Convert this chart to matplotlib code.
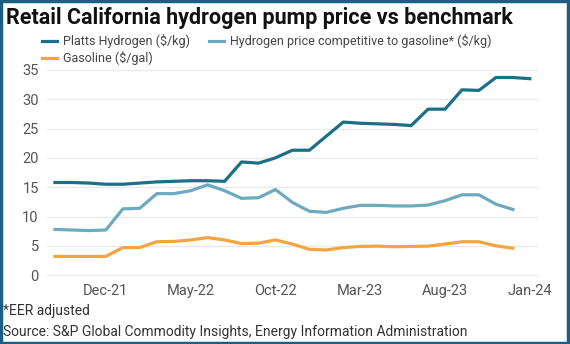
import numpy as np
import matplotlib
matplotlib.use("Agg")
import matplotlib.pyplot as plt
from matplotlib.patches import Rectangle

plt.rcParams['font.family'] = ['Roboto', 'DejaVu Sans']

# Monthly points, Sep-21 .. Jan-24
months = ["Sep-21", "Oct-21", "Nov-21", "Dec-21", "Jan-22", "Feb-22", "Mar-22", "Apr-22",
          "May-22", "Jun-22", "Jul-22", "Aug-22", "Sep-22", "Oct-22", "Nov-22", "Dec-22",
          "Jan-23", "Feb-23", "Mar-23", "Apr-23", "May-23", "Jun-23", "Jul-23", "Aug-23",
          "Sep-23", "Oct-23", "Nov-23", "Dec-23", "Jan-24"]

platts = [15.8, 15.8, 15.7, 15.5, 15.5, 15.7, 15.9, 16.0, 16.1, 16.1, 16.0, 19.3, 19.1,
          20.0, 21.3, 21.3, 23.7, 26.1, 25.9, 25.8, 25.7, 25.5, 28.3, 28.3, 31.6, 31.5,
          33.7, 33.7, 33.5]
competitive = [7.8, 7.7, 7.6, 7.7, 11.3, 11.4, 13.9, 13.9, 14.4, 15.4, 14.4, 13.1, 13.2,
               14.6, 12.4, 10.9, 10.7, 11.4, 11.9, 11.9, 11.8, 11.8, 11.95, 12.7, 13.7,
               13.7, 12.1, 11.2]
gasoline = [3.2, 3.2, 3.2, 3.2, 4.7, 4.7, 5.7, 5.75, 6.0, 6.4, 6.0, 5.4, 5.45, 6.0, 5.3,
            4.4, 4.3, 4.7, 4.9, 4.95, 4.85, 4.9, 4.95, 5.3, 5.7, 5.7, 5.0, 4.6]

tick_labels = ["Dec-21", "May-22", "Oct-22", "Mar-23", "Aug-23", "Jan-24"]

fig = plt.figure(figsize=(5.7, 3.44), dpi=100)
ax = fig.add_axes([0.0825, 0.195, 0.861, 0.607])

c_platts = "#1b6f87"
c_comp = "#6eaabf"
c_gas = "#f2a541"

l1, = ax.plot(range(len(platts)), platts, color=c_platts, lw=2.3, label="Platts Hydrogen ($/kg)",
              solid_joinstyle="round", zorder=3)
l2, = ax.plot(range(len(competitive)), competitive, color=c_comp, lw=2.3,
              label="Hydrogen price competitive to gasoline* ($/kg)", solid_joinstyle="round", zorder=3)
l3, = ax.plot(range(len(gasoline)), gasoline, color=c_gas, lw=2.3, label="Gasoline ($/gal)",
              solid_joinstyle="round", zorder=3)

ax.set_xlim(-0.47, 28.47)
ax.set_ylim(-0.3, 35.3)
ax.set_yticks(range(0, 36, 5))
ax.set_xticks([months.index(m) for m in tick_labels])
ax.set_xticklabels(tick_labels)
ax.grid(axis="y", color="#e9e9e9", lw=1)
ax.set_axisbelow(True)
for s in ax.spines.values():
    s.set_visible(False)
ax.tick_params(length=0, labelsize=10.5, colors="#555555")
ax.tick_params(axis="y", pad=6)
ax.tick_params(axis="x", pad=5)

# column-wise fill: Platts / Gasoline in col 1, competitive in col 2
leg = fig.legend([l1, l3, l2], [l1.get_label(), l3.get_label(), l2.get_label()],
                 loc="upper left", bbox_to_anchor=(0.065, 0.915), ncol=2, frameon=False,
                 fontsize=9, handlelength=1.2, handletextpad=0.5, columnspacing=1.5,
                 labelspacing=0.25, borderaxespad=0)
for t in leg.get_texts():
    t.set_color("#444444")

fig.text(0.01, 0.948, "Retail California hydrogen pump price vs benchmark", fontsize=15.5,
         fontweight="bold", va="center", ha="left", color="#111111")
fig.text(0.005, 0.095, "*EER adjusted", fontsize=10, va="center", color="#333333")
fig.text(0.005, 0.035, "Source: S&P Global Commodity Insights, Energy Information Administration",
         fontsize=10, va="center", color="#333333")

fig.patches.append(Rectangle((0.002, 0.004), 0.994, 0.992, transform=fig.transFigure,
                             fill=False, edgecolor="#1d5f83", lw=2.5))

fig.savefig("out.png", dpi=100)
